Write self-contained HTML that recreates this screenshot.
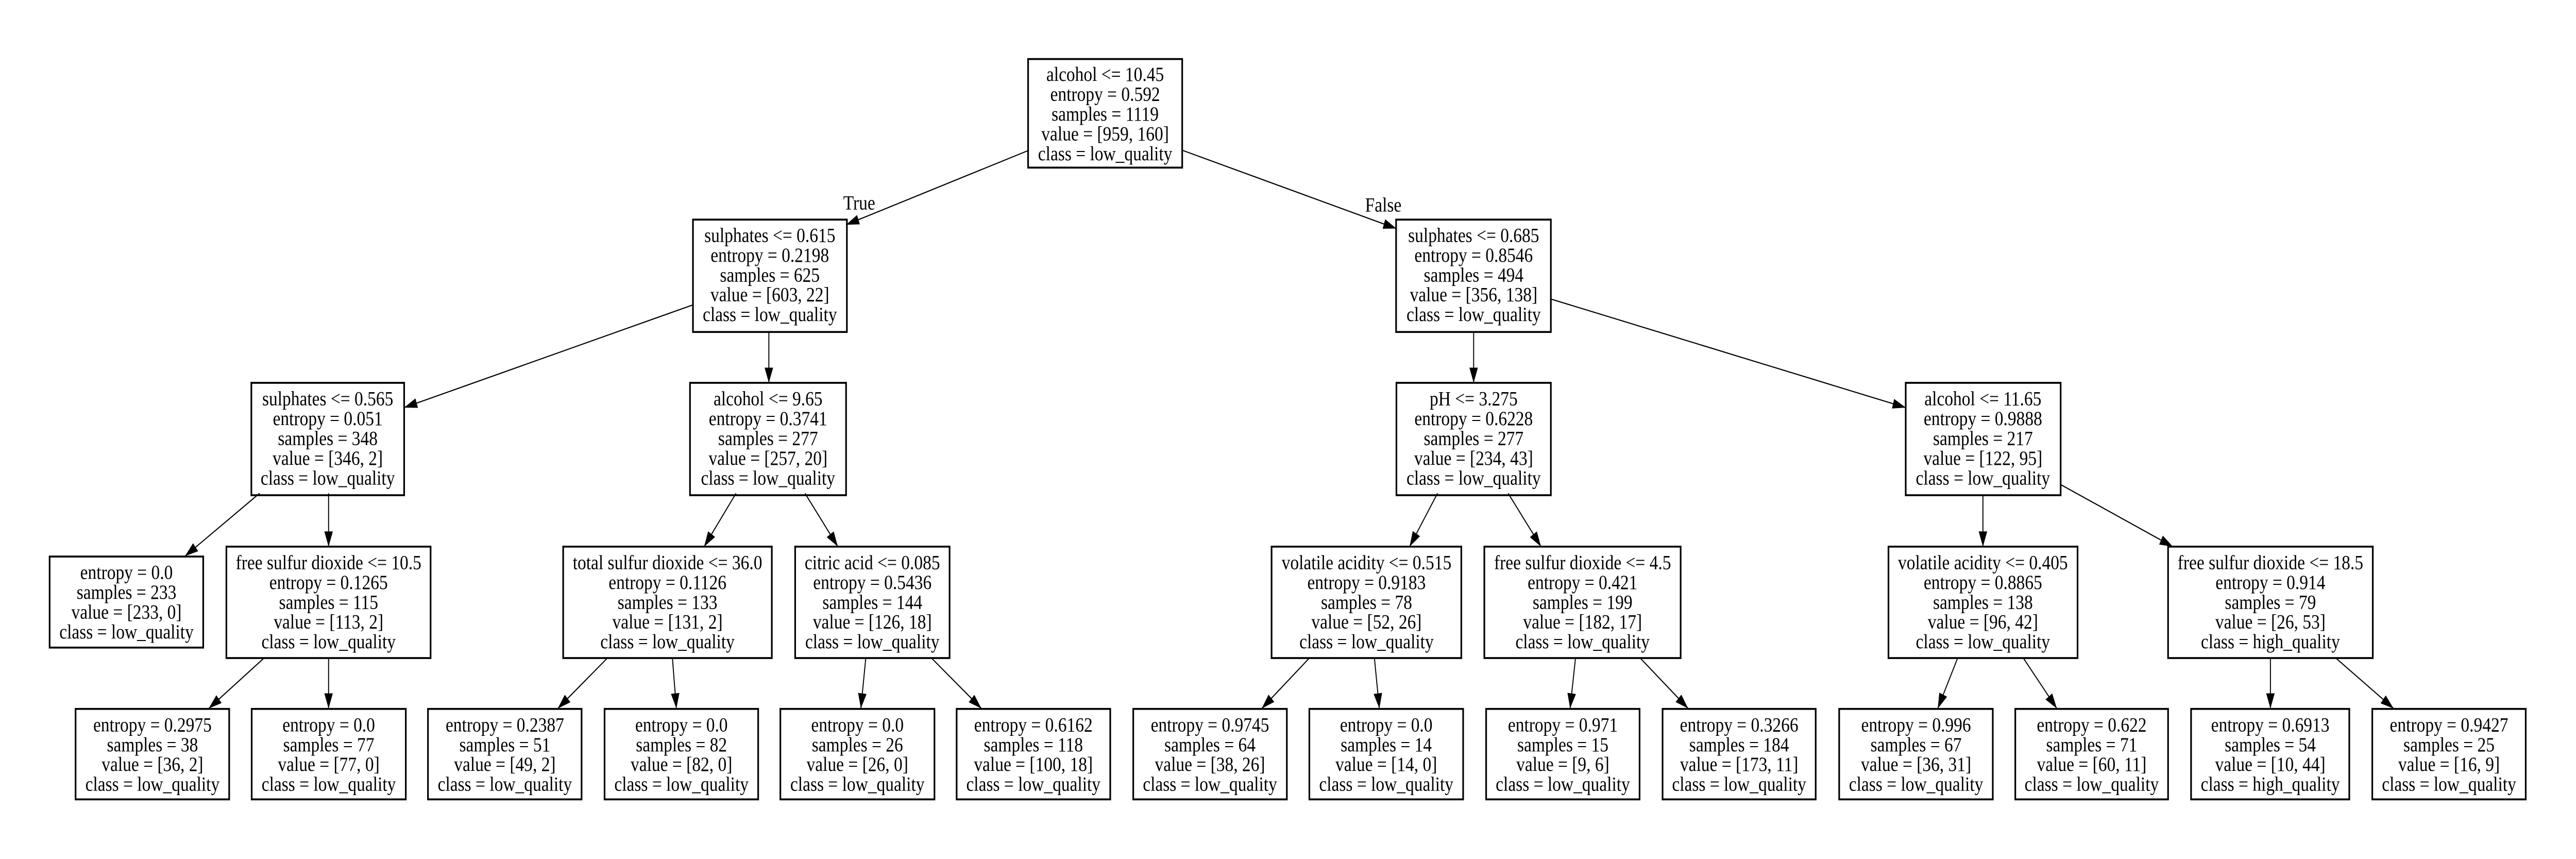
<!DOCTYPE html>
<html><head><meta charset="utf-8"><style>html,body{margin:0;padding:0;background:#fff;width:100%;height:100%;overflow:hidden}svg{display:block;width:100vw;height:100vh}</style></head>
<body>
<svg xmlns="http://www.w3.org/2000/svg" viewBox="0 0 1568 451" preserveAspectRatio="none">
<defs><marker id="a" markerUnits="userSpaceOnUse" markerWidth="10" markerHeight="8" refX="8" refY="2.6" orient="auto"><path d="M0,0 L8,2.6 L0,5.2 Z" fill="#000"/></marker></defs>
<rect width="1568" height="451" fill="#fff"/>
<g stroke="#000" stroke-width="0.6" fill="none" marker-end="url(#a)">
<line x1="626" y1="79" x2="515" y2="118"/>
<line x1="720" y1="79" x2="850" y2="120"/>
<line x1="422" y1="160" x2="246" y2="214"/>
<line x1="468" y1="174" x2="468" y2="201"/>
<line x1="897" y1="174" x2="897" y2="201"/>
<line x1="944" y1="157" x2="1160" y2="214"/>
<line x1="158" y1="259" x2="112.6" y2="292"/>
<line x1="200" y1="259" x2="200" y2="287"/>
<line x1="448" y1="259" x2="428.6" y2="287"/>
<line x1="490" y1="259" x2="510" y2="287"/>
<line x1="875" y1="259" x2="858" y2="287"/>
<line x1="918" y1="259" x2="938" y2="287"/>
<line x1="1207" y1="260" x2="1207" y2="287"/>
<line x1="1254.3" y1="254.4" x2="1322.6" y2="287"/>
<line x1="160.7" y1="345.5" x2="127" y2="372"/>
<line x1="200" y1="345.5" x2="200" y2="372"/>
<line x1="369.7" y1="345.5" x2="339.5" y2="372"/>
<line x1="409.3" y1="345.5" x2="411.7" y2="372"/>
<line x1="527" y1="345.5" x2="524" y2="372"/>
<line x1="567" y1="345.5" x2="597.4" y2="372"/>
<line x1="797" y1="345.5" x2="768" y2="372"/>
<line x1="836.6" y1="345.5" x2="839.6" y2="372"/>
<line x1="959" y1="345.5" x2="955.7" y2="372"/>
<line x1="998.4" y1="345.5" x2="1027.6" y2="372"/>
<line x1="1191.6" y1="345.5" x2="1179.5" y2="372"/>
<line x1="1231.6" y1="345.5" x2="1252" y2="372"/>
<line x1="1382" y1="345.5" x2="1382" y2="372"/>
<line x1="1421.8" y1="345.5" x2="1457" y2="372"/>
</g>
<g stroke="#000" stroke-width="1" fill="none">
<rect x="625.8" y="31" width="93.8" height="57"/>
<rect x="421.8" y="115.3" width="93.7" height="59"/>
<rect x="849.8" y="115.3" width="94.2" height="59"/>
<rect x="153" y="201" width="93" height="59"/>
<rect x="420" y="201" width="95" height="59"/>
<rect x="850" y="201" width="94" height="59"/>
<rect x="1160" y="201" width="94.3" height="59"/>
<rect x="30.2" y="292.2" width="93.5" height="47.8"/>
<rect x="137.8" y="287" width="124.3" height="58.5"/>
<rect x="342.8" y="287" width="127" height="58.5"/>
<rect x="484" y="287" width="94" height="58.5"/>
<rect x="774" y="287" width="115.5" height="58.5"/>
<rect x="903.5" y="287" width="119.5" height="58.5"/>
<rect x="1149.5" y="287" width="115.1" height="58.5"/>
<rect x="1319.7" y="287" width="124.6" height="58.5"/>
<rect x="46" y="372.2" width="93.5" height="47.5"/>
<rect x="153.2" y="372.2" width="93.8" height="47.5"/>
<rect x="260.5" y="372.2" width="93.5" height="47.5"/>
<rect x="368" y="372.2" width="93.5" height="47.5"/>
<rect x="475" y="372.2" width="93.8" height="47.5"/>
<rect x="582.3" y="372.2" width="93.5" height="47.5"/>
<rect x="689.8" y="372.2" width="93.5" height="47.5"/>
<rect x="797" y="372.2" width="93.6" height="47.5"/>
<rect x="904.6" y="372.2" width="93.4" height="47.5"/>
<rect x="1012" y="372.2" width="93.2" height="47.5"/>
<rect x="1119.5" y="372.2" width="93.5" height="47.5"/>
<rect x="1226.7" y="372.2" width="93" height="47.5"/>
<rect x="1333.7" y="372.2" width="96.3" height="47.5"/>
<rect x="1444" y="372.2" width="93.4" height="47.5"/>
</g>
<g font-family="'Liberation Serif', serif" font-size="10.5" text-anchor="middle" fill="#000">
<text x="523" y="110">True</text>
<text x="842" y="111">False</text>

<text y="42.5"><tspan x="672.7">alcohol &lt;= 10.45</tspan><tspan x="672.7" dy="10.4">entropy = 0.592</tspan><tspan x="672.7" dy="10.4">samples = 1119</tspan><tspan x="672.7" dy="10.4">value = [959, 160]</tspan><tspan x="672.7" dy="10.4">class = low_quality</tspan></text>

<text y="127"><tspan x="468.6">sulphates &lt;= 0.615</tspan><tspan x="468.6" dy="10.4">entropy = 0.2198</tspan><tspan x="468.6" dy="10.4">samples = 625</tspan><tspan x="468.6" dy="10.4">value = [603, 22]</tspan><tspan x="468.6" dy="10.4">class = low_quality</tspan></text>
<text y="127"><tspan x="897">sulphates &lt;= 0.685</tspan><tspan x="897" dy="10.4">entropy = 0.8546</tspan><tspan x="897" dy="10.4">samples = 494</tspan><tspan x="897" dy="10.4">value = [356, 138]</tspan><tspan x="897" dy="10.4">class = low_quality</tspan></text>

<text y="212.8"><tspan x="199.5">sulphates &lt;= 0.565</tspan><tspan x="199.5" dy="10.4">entropy = 0.051</tspan><tspan x="199.5" dy="10.4">samples = 348</tspan><tspan x="199.5" dy="10.4">value = [346, 2]</tspan><tspan x="199.5" dy="10.4">class = low_quality</tspan></text>
<text y="212.8"><tspan x="467.5">alcohol &lt;= 9.65</tspan><tspan x="467.5" dy="10.4">entropy = 0.3741</tspan><tspan x="467.5" dy="10.4">samples = 277</tspan><tspan x="467.5" dy="10.4">value = [257, 20]</tspan><tspan x="467.5" dy="10.4">class = low_quality</tspan></text>
<text y="212.8"><tspan x="897">pH &lt;= 3.275</tspan><tspan x="897" dy="10.4">entropy = 0.6228</tspan><tspan x="897" dy="10.4">samples = 277</tspan><tspan x="897" dy="10.4">value = [234, 43]</tspan><tspan x="897" dy="10.4">class = low_quality</tspan></text>
<text y="212.8"><tspan x="1207">alcohol &lt;= 11.65</tspan><tspan x="1207" dy="10.4">entropy = 0.9888</tspan><tspan x="1207" dy="10.4">samples = 217</tspan><tspan x="1207" dy="10.4">value = [122, 95]</tspan><tspan x="1207" dy="10.4">class = low_quality</tspan></text>

<text y="304"><tspan x="77">entropy = 0.0</tspan><tspan x="77" dy="10.4">samples = 233</tspan><tspan x="77" dy="10.4">value = [233, 0]</tspan><tspan x="77" dy="10.4">class = low_quality</tspan></text>
<text y="298.8"><tspan x="200">free sulfur dioxide &lt;= 10.5</tspan><tspan x="200" dy="10.4">entropy = 0.1265</tspan><tspan x="200" dy="10.4">samples = 115</tspan><tspan x="200" dy="10.4">value = [113, 2]</tspan><tspan x="200" dy="10.4">class = low_quality</tspan></text>
<text y="298.8"><tspan x="406.3">total sulfur dioxide &lt;= 36.0</tspan><tspan x="406.3" dy="10.4">entropy = 0.1126</tspan><tspan x="406.3" dy="10.4">samples = 133</tspan><tspan x="406.3" dy="10.4">value = [131, 2]</tspan><tspan x="406.3" dy="10.4">class = low_quality</tspan></text>
<text y="298.8"><tspan x="531">citric acid &lt;= 0.085</tspan><tspan x="531" dy="10.4">entropy = 0.5436</tspan><tspan x="531" dy="10.4">samples = 144</tspan><tspan x="531" dy="10.4">value = [126, 18]</tspan><tspan x="531" dy="10.4">class = low_quality</tspan></text>
<text y="298.8"><tspan x="831.8">volatile acidity &lt;= 0.515</tspan><tspan x="831.8" dy="10.4">entropy = 0.9183</tspan><tspan x="831.8" dy="10.4">samples = 78</tspan><tspan x="831.8" dy="10.4">value = [52, 26]</tspan><tspan x="831.8" dy="10.4">class = low_quality</tspan></text>
<text y="298.8"><tspan x="963.3">free sulfur dioxide &lt;= 4.5</tspan><tspan x="963.3" dy="10.4">entropy = 0.421</tspan><tspan x="963.3" dy="10.4">samples = 199</tspan><tspan x="963.3" dy="10.4">value = [182, 17]</tspan><tspan x="963.3" dy="10.4">class = low_quality</tspan></text>
<text y="298.8"><tspan x="1207">volatile acidity &lt;= 0.405</tspan><tspan x="1207" dy="10.4">entropy = 0.8865</tspan><tspan x="1207" dy="10.4">samples = 138</tspan><tspan x="1207" dy="10.4">value = [96, 42]</tspan><tspan x="1207" dy="10.4">class = low_quality</tspan></text>
<text y="298.8"><tspan x="1382">free sulfur dioxide &lt;= 18.5</tspan><tspan x="1382" dy="10.4">entropy = 0.914</tspan><tspan x="1382" dy="10.4">samples = 79</tspan><tspan x="1382" dy="10.4">value = [26, 53]</tspan><tspan x="1382" dy="10.4">class = high_quality</tspan></text>

<text y="384"><tspan x="92.8">entropy = 0.2975</tspan><tspan x="92.8" dy="10.4">samples = 38</tspan><tspan x="92.8" dy="10.4">value = [36, 2]</tspan><tspan x="92.8" dy="10.4">class = low_quality</tspan></text>
<text y="384"><tspan x="200.1">entropy = 0.0</tspan><tspan x="200.1" dy="10.4">samples = 77</tspan><tspan x="200.1" dy="10.4">value = [77, 0]</tspan><tspan x="200.1" dy="10.4">class = low_quality</tspan></text>
<text y="384"><tspan x="307.3">entropy = 0.2387</tspan><tspan x="307.3" dy="10.4">samples = 51</tspan><tspan x="307.3" dy="10.4">value = [49, 2]</tspan><tspan x="307.3" dy="10.4">class = low_quality</tspan></text>
<text y="384"><tspan x="414.8">entropy = 0.0</tspan><tspan x="414.8" dy="10.4">samples = 82</tspan><tspan x="414.8" dy="10.4">value = [82, 0]</tspan><tspan x="414.8" dy="10.4">class = low_quality</tspan></text>
<text y="384"><tspan x="521.9">entropy = 0.0</tspan><tspan x="521.9" dy="10.4">samples = 26</tspan><tspan x="521.9" dy="10.4">value = [26, 0]</tspan><tspan x="521.9" dy="10.4">class = low_quality</tspan></text>
<text y="384"><tspan x="629">entropy = 0.6162</tspan><tspan x="629" dy="10.4">samples = 118</tspan><tspan x="629" dy="10.4">value = [100, 18]</tspan><tspan x="629" dy="10.4">class = low_quality</tspan></text>
<text y="384"><tspan x="736.5">entropy = 0.9745</tspan><tspan x="736.5" dy="10.4">samples = 64</tspan><tspan x="736.5" dy="10.4">value = [38, 26]</tspan><tspan x="736.5" dy="10.4">class = low_quality</tspan></text>
<text y="384"><tspan x="843.8">entropy = 0.0</tspan><tspan x="843.8" dy="10.4">samples = 14</tspan><tspan x="843.8" dy="10.4">value = [14, 0]</tspan><tspan x="843.8" dy="10.4">class = low_quality</tspan></text>
<text y="384"><tspan x="951.3">entropy = 0.971</tspan><tspan x="951.3" dy="10.4">samples = 15</tspan><tspan x="951.3" dy="10.4">value = [9, 6]</tspan><tspan x="951.3" dy="10.4">class = low_quality</tspan></text>
<text y="384"><tspan x="1058.6">entropy = 0.3266</tspan><tspan x="1058.6" dy="10.4">samples = 184</tspan><tspan x="1058.6" dy="10.4">value = [173, 11]</tspan><tspan x="1058.6" dy="10.4">class = low_quality</tspan></text>
<text y="384"><tspan x="1166.3">entropy = 0.996</tspan><tspan x="1166.3" dy="10.4">samples = 67</tspan><tspan x="1166.3" dy="10.4">value = [36, 31]</tspan><tspan x="1166.3" dy="10.4">class = low_quality</tspan></text>
<text y="384"><tspan x="1273.2">entropy = 0.622</tspan><tspan x="1273.2" dy="10.4">samples = 71</tspan><tspan x="1273.2" dy="10.4">value = [60, 11]</tspan><tspan x="1273.2" dy="10.4">class = low_quality</tspan></text>
<text y="384"><tspan x="1381.9">entropy = 0.6913</tspan><tspan x="1381.9" dy="10.4">samples = 54</tspan><tspan x="1381.9" dy="10.4">value = [10, 44]</tspan><tspan x="1381.9" dy="10.4">class = high_quality</tspan></text>
<text y="384"><tspan x="1490.7">entropy = 0.9427</tspan><tspan x="1490.7" dy="10.4">samples = 25</tspan><tspan x="1490.7" dy="10.4">value = [16, 9]</tspan><tspan x="1490.7" dy="10.4">class = low_quality</tspan></text>
</g>
</svg>
</body></html>
